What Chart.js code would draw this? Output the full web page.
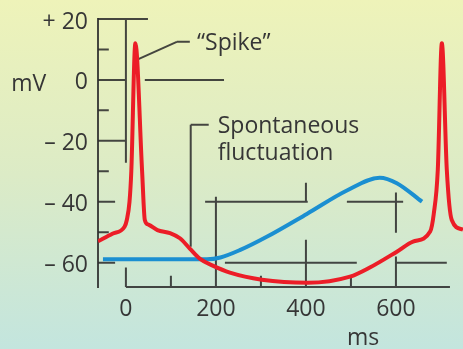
<!DOCTYPE html>
<html>
<head>
<meta charset="utf-8">
<script src="https://cdn.jsdelivr.net/npm/chart.js@4/dist/chart.umd.min.js"></script>
<style>
html, body { margin: 0; padding: 0; }
body {
    width: 463px; height: 349px; overflow: hidden;
    background: linear-gradient(to bottom, #eef3b9 0%, #dcebc6 50%, #c3e5de 100%);
}
canvas { display: block; }
</style>
</head>
<body>
<canvas id="chart" width="463" height="349"></canvas>
<script>
// "Spike" trace (red), time in ms, potential in mV
const spikeTime = [-62, -30, -3, 2, 8, 12, 21, 36, 42, 50, 70, 98, 120, 142, 164, 193, 231, 302, 404, 498, 542, 602, 638, 676, 684, 693, 702, 713, 724, 749];
const spikeVolt = [-53, -50.5, -48.2, -46, -40, -30, 12, -30, -46, -47.5, -49.3, -50.3, -52, -55.4, -58.7, -61, -63.3, -65.6, -66.6, -64.6, -61.6, -56.4, -53.1, -49.8, -44, -29.5, 12, -29.5, -46, -49.2];

// spontaneous fluctuation (blue)
const waveTime = [-51, 180, 210, 253, 313, 402, 491, 564, 602, 658];
const waveVolt = [-58.9, -58.9, -58.3, -55.9, -51.5, -44, -36.3, -32.1, -33.9, -40];

// axis ticks
const xTicks = [0, 200, 400, 600];
const xLabels = ['0', '200', '400', '600'];
const yTicks = [20, 0, -20, -40, -60];
const yLabels = ['+ 20', '0', '– 20', '– 40', '– 60'];

// frame lines of the figure, [t1, v1, t2, v2] in axis units
const frameLines = [
    [-62, 20, 49, 20],
    [0, 20, 0, -27.2],
    [-62, 0, 0, 0], [42, 0, 218, 0],
    [-62, -20, 0, -20],
    [-62, -40, -24, -40],
    [-62, -60, -24, -60],
    [-62, 10, -38, 10], [-62, -10, -38, -10], [-62, -30, -38, -30], [-62, -50, -38, -50],
    [144, -54.8, 144, -14.75], [144, -14.75, 184, -14.75],
    [24, 6.6, 113, 12.5], [113, 12.5, 142, 12.5],
    [0, -68, 720, -68],
    [0, -68, 0, -61.6], [100, -68, 100, -64.3], [200, -38.4, 200, -68], [300, -68, 300, -64.3],
    [400, -33.8, 400, -40.3], [400, -52.5, 400, -68], [500, -68, 500, -64.3],
    [600, -37, 600, -50.2], [600, -58, 600, -68],
    [176, -40, 404, -40], [491, -40, 616, -40],
    [220, -60, 513, -60], [602, -60, 713, -60]
];

// texts: [text, t, v, align]
const notes = [
    ['“Spike”', 158, 9.8, 'left'],
    ['Spontaneous', 204, -17.4, 'left'],
    ['fluctuation', 204, -26.2, 'left'],
    ['mV', -255, -3.6, 'left'],
    ['ms', 491, -86.9, 'left']
];

const textColor = '#363636';
const lineColor = 'rgba(45, 45, 45, 0.88)';
Chart.defaults.font.family = "'Open Sans', sans-serif";
Chart.defaults.font.size = 23;
Chart.defaults.color = textColor;

const frame = {
    id: 'frame',
    beforeDatasetsDraw(chart) {
        const { ctx, scales: { x, y } } = chart;
        ctx.save();
        ctx.strokeStyle = lineColor;
        ctx.lineWidth = 2;
        ctx.beginPath();
        frameLines.forEach(([t1, v1, t2, v2]) => {
            ctx.moveTo(x.getPixelForValue(t1), y.getPixelForValue(v1));
            ctx.lineTo(x.getPixelForValue(t2), y.getPixelForValue(v2));
        });
        ctx.stroke();

        ctx.fillStyle = textColor;
        ctx.font = "23px 'Open Sans'";
        ctx.textBaseline = 'alphabetic';
        notes.forEach(([txt, t, v, align]) => {
            ctx.textAlign = align;
            ctx.fillText(txt, x.getPixelForValue(t), y.getPixelForValue(v));
        });
        ctx.restore();
    }
};

const toPoints = (ts, vs) => ts.map((t, i) => ({ x: t, y: vs[i] }));

new Chart(document.getElementById('chart'), {
    type: 'line',
    data: {
        datasets: [{
            label: 'Spike',
            data: toPoints(spikeTime, spikeVolt),
            borderColor: '#ec1d27',
            borderWidth: 4,
            pointRadius: 0,
            cubicInterpolationMode: 'monotone'
        }, {
            label: 'Spontaneous fluctuation',
            data: toPoints(waveTime, waveVolt),
            borderColor: '#1b8fd1',
            borderWidth: 4,
            pointRadius: 0,
            cubicInterpolationMode: 'monotone'
        }]
    },
    options: {
        responsive: false,
        devicePixelRatio: 1,
        animation: false,
        layout: { padding: { left: 0, right: 0, top: 19, bottom: 0 } },
        plugins: { legend: { display: false }, tooltip: { enabled: false } },
        scales: {
            x: {
                type: 'linear',
                min: -62,
                max: 749,
                grid: { display: false, drawTicks: false },
                border: { display: false },
                afterBuildTicks: scale => { scale.ticks = xTicks.map(v => ({ value: v })); },
                afterFit: scale => { scale.height = 62; scale.paddingLeft = 0; scale.paddingRight = 0; },
                ticks: {
                    padding: 9,
                    maxRotation: 0,
                    callback: (value, i) => xLabels[i]
                }
            },
            y: {
                type: 'linear',
                min: -68,
                max: 20,
                grid: { display: false, drawTicks: false },
                border: { display: true, color: lineColor, width: 2 },
                afterBuildTicks: scale => { scale.ticks = yTicks.map(v => ({ value: v })); },
                afterFit: scale => { scale.width = 98; scale.paddingTop = 0; scale.paddingBottom = 0; },
                ticks: {
                    padding: 10,
                    labelOffset: 3,
                    callback: (value, i) => yLabels[i]
                }
            }
        }
    },
    plugins: [frame]
});
</script>
</body>
</html>
